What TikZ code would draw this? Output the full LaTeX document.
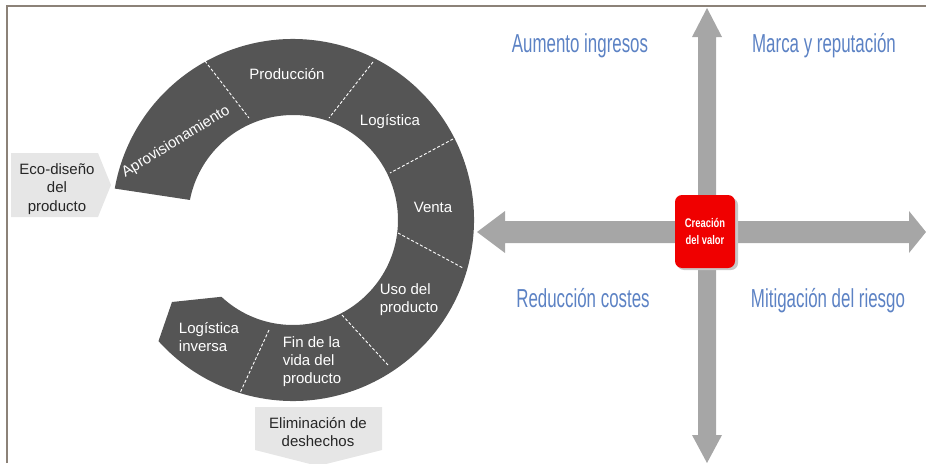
\documentclass[tikz,border=0pt]{standalone}
\usepackage{fontspec}
\setmainfont{Liberation Sans}
\newfontfamily\narrowfont[FakeStretch=0.65]{Liberation Sans}
\newfontfamily\redfont[FakeStretch=0.75]{Liberation Sans}
\definecolor{ringgray}{RGB}{85,85,85}
\definecolor{arrowgray}{RGB}{166,166,166}
\definecolor{boxgray}{RGB}{230,230,230}
\definecolor{labelblue}{RGB}{92,130,196}
\definecolor{framecol}{RGB}{140,130,120}
\definecolor{valred}{RGB}{240,0,0}
\begin{document}
\begin{tikzpicture}[x=1pt,y=-1pt,
  ringtext/.style={text=white,font=\fontsize{15}{18}\selectfont,inner sep=0pt},
  bluelabel/.style={text=labelblue,font=\narrowfont\fontsize{26}{30}\selectfont,inner sep=0pt,anchor=base},
  graybox/.style={fill=boxgray,draw=none},
  boxtext/.style={text=black!85,font=\fontsize{15}{18.5}\selectfont,align=center,inner sep=0pt},
  sep/.style={draw=white,line width=0.9pt,dash pattern=on 3pt off 2pt},
  bigarrow/.style={fill=arrowgray,draw=none}]
\useasboundingbox (0,0) rectangle (926,463);
\clip (0,0) rectangle (926,463);
% frame
\draw[framecol,line width=2pt] (7,463) -- (7,6) -- (926,6);
% gray boxes
\fill[graybox] (11,153) -- (98,153) -- (111,185) -- (98,217) -- (11,217) -- cycle;
\node[boxtext] (eco) at (57,189) {Eco-diseño\\del\\producto};
\fill[graybox] (255,407) -- (382,407) -- (382,450) -- (318,466) -- (255,450) -- cycle;
\node[boxtext,font=\fontsize{15}{18}\selectfont] (elim) at (318,432.5) {Eliminación de\\deshechos};
% ring
\begin{scope}[shift={(293,220)},yscale=-1]
\fill[ringgray] (170:181) arc[start angle=170,end angle=-138,radius=181]
  -- (-121,-82) -- (-133:105) arc[start angle=-133,end angle=169,radius=105] -- cycle;
\end{scope}
% separators
\draw[sep] (205,61) -- (249,118);
\draw[sep] (373,62) -- (329,118);
\draw[sep] (453,139) -- (390,173);
\draw[sep] (398,233) -- (463,268);
\draw[sep] (342,315) -- (388,365);
\draw[sep] (269,330) -- (240,393);
% ring labels
\node[ringtext,anchor=base] (prod) at (287,79) {Producción};
\node[ringtext,anchor=base] (log) at (390,125) {Logística};
\node[ringtext,anchor=base] (venta) at (433,212) {Venta};
\node[ringtext,align=left] (uso) at (409,300) {Uso del\\producto};
\node[ringtext,align=left] (fin) at (312,362) {Fin de la\\vida del\\producto};
\node[ringtext,align=left] (loginv) at (209,337) {Logística\\inversa};
\node[ringtext,rotate=31.5] (aprov) at (176,142) {Aprovisionamiento};
% big arrows
\fill[bigarrow] (477,232) -- (505,211) -- (505,221) -- (909,221) -- (909,211) -- (926,232)
  -- (909,253) -- (909,243) -- (505,243) -- (505,253) -- cycle;
\fill[bigarrow] (707,8) -- (722,37) -- (716,37) -- (716,435) -- (722,435) -- (707,463)
  -- (692,435) -- (698,435) -- (698,37) -- (692,37) -- cycle;
% value box
\fill[black!22,rounded corners=7pt] (677,198) rectangle (738,270);
\node[fill=valred,rounded corners=7pt,minimum width=60pt,minimum height=73pt,text=white,
  font=\redfont\bfseries\fontsize{12.5}{17}\selectfont,align=center,inner sep=0pt]
  (valor) at (705,231.5) {Creación\\del valor};
% blue labels
\node[bluelabel] (aum) at (580,52) {Aumento ingresos};
\node[bluelabel] (marca) at (824,52) {Marca y reputación};
\node[bluelabel] (reduc) at (583,307) {Reducción costes};
\node[bluelabel] (mitig) at (828,307) {Mitigación del riesgo};
\end{tikzpicture}
\end{document}
